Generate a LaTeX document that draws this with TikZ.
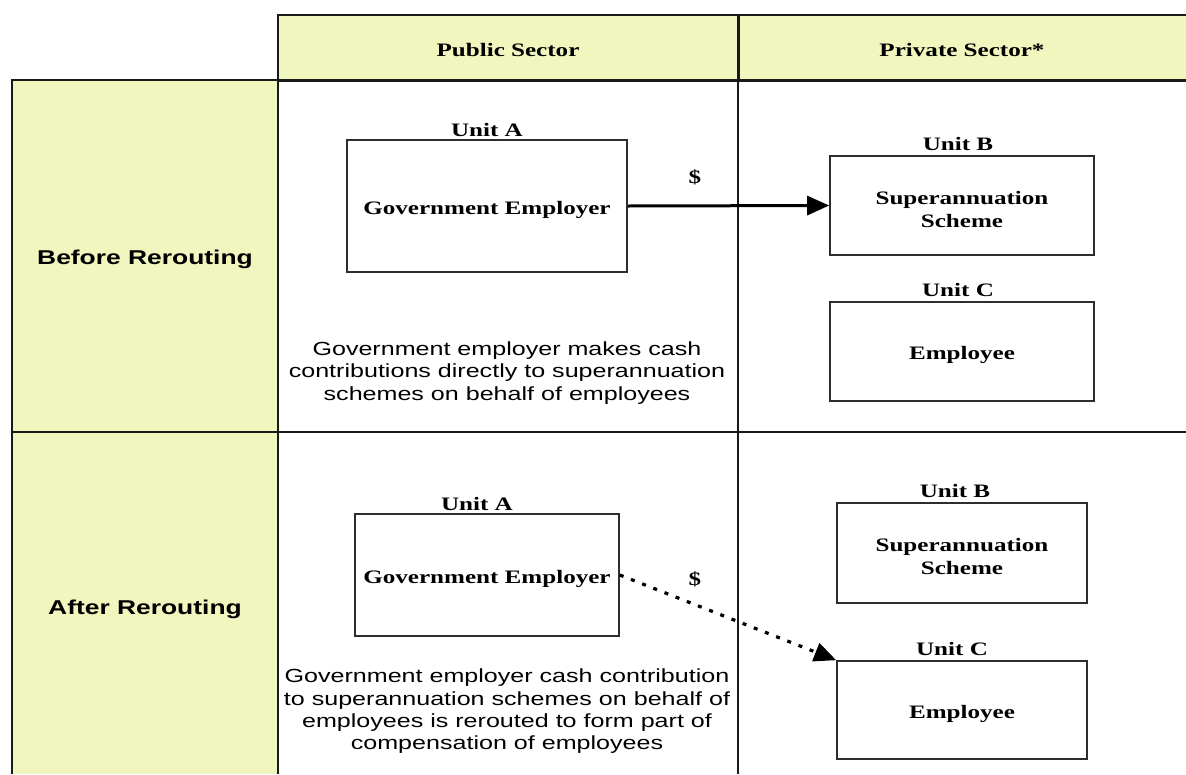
\documentclass[tikz,border=0pt]{standalone}
\usepackage{fontspec}
\setmainfont{Liberation Sans}
\newfontfamily\tnr[FakeStretch=1.32]{Liberation Serif}
\newfontfamily\arl[FakeStretch=1.32]{Liberation Sans}
\usetikzlibrary{arrows.meta}
\definecolor{cellfill}{RGB}{240,246,190}
\definecolor{boxline}{RGB}{45,45,45}
\begin{document}
\begin{tikzpicture}[x=1pt,y=-1pt,
  gridline/.style={line width=1.5pt, draw=black!90},
  heavyline/.style={line width=3pt, draw=black!90},
  unitbox/.style={draw=boxline, line width=1.6pt, fill=white, align=center,
    font=\tnr\bfseries\fontsize{19}{23}\selectfont, inner sep=0pt,
    text height=20pt, text depth=4pt},
  twoline/.style={text height=43pt, text depth=0pt},
  unitlbl/.style={font=\tnr\bfseries\fontsize{19}{23}\selectfont, inner sep=0pt, anchor=base},
  headtxt/.style={font=\tnr\bfseries\fontsize{19}{23}\selectfont, inner sep=0pt},
  rowtxt/.style={font=\arl\bfseries\fontsize{20}{24}\selectfont, inner sep=0pt},
  desc/.style={font=\arl\fontsize{19}{22.3}\selectfont, align=center, inner sep=0pt},
  money/.style={font=\tnr\bfseries\fontsize{19}{23}\selectfont, inner sep=0pt},
  flow/.style={line width=3pt, -{Triangle[length=22pt,width=19pt]}},
  dotflow/.style={line width=3.2pt, dash pattern=on 4pt off 8pt, -{Triangle[length=22pt,width=19pt]}}
]
\useasboundingbox (0,0) rectangle (1186,774);
% cell fills
\fill[cellfill] (278,15) rectangle (1186,80);
\fill[cellfill] (12,80) rectangle (278,774);
% grid
\draw[gridline] (1186,15) -- (278,15) -- (278,774);
\draw[gridline] (12,774) -- (12,80) -- (278,80);
\draw[heavyline] (278,80) -- (1186,80);
\draw[heavyline] (738,15) -- (738,80);
\draw[gridline] (738,80) -- (738,774);
\draw[gridline] (12,432) -- (1186,432);
% headers
\node[headtxt] (hpub) at (508,50) {Public Sector};
\node[headtxt] (hpriv) at (962,50) {Private Sector*};
\node[rowtxt] (rbefore) at (145,259) {Before Rerouting};
\node[rowtxt] (rafter) at (145,609) {After Rerouting};
% before rerouting
\node[unitbox, minimum width=280pt, minimum height=132pt] (A1) at (487,206) {Government Employer};
\node[unitlbl] (lA1) at ([yshift=3pt]A1.north) {Unit A};
\node[unitbox, twoline, minimum width=264pt, minimum height=99pt] (B1) at (962,205.5) {Superannuation\\Scheme};
\node[unitlbl] (lB1) at ([yshift=5pt,xshift=-4pt]B1.north) {Unit B};
\node[unitbox, minimum width=264pt, minimum height=99pt] (C1) at (962,351.5) {Employee};
\node[unitlbl] (lC1) at ([yshift=5pt,xshift=-4pt]C1.north) {Unit C};
\node[money] (m1) at (695,177) {\$};
\draw[flow] (A1.east) -- (B1.west);
\node[desc] (d1) at (507,373) {Government employer makes cash\\contributions directly to superannuation\\schemes on behalf of employees};
% after rerouting
\node[unitbox, minimum width=264pt, minimum height=122pt] (A2) at (487,575) {Government Employer};
\node[unitlbl] (lA2) at ([yshift=3pt,xshift=-10pt]A2.north) {Unit A};
\node[unitbox, twoline, minimum width=250pt, minimum height=100pt] (B2) at (962,553) {Superannuation\\Scheme};
\node[unitlbl] (lB2) at ([yshift=5pt,xshift=-7pt]B2.north) {Unit B};
\node[unitbox, minimum width=250pt, minimum height=98pt] (C2) at (962,710) {Employee};
\node[unitlbl] (lC2) at ([yshift=5pt,xshift=-10pt]C2.north) {Unit C};
\node[money] (m2) at (695,579) {\$};
\draw[dotflow] (A2.east) -- (C2.north west);
\node[desc] (d2) at (507,711.5) {Government employer cash contribution\\to superannuation schemes on behalf of\\employees is rerouted to form part of\\compensation of employees};
\end{tikzpicture}
\end{document}
